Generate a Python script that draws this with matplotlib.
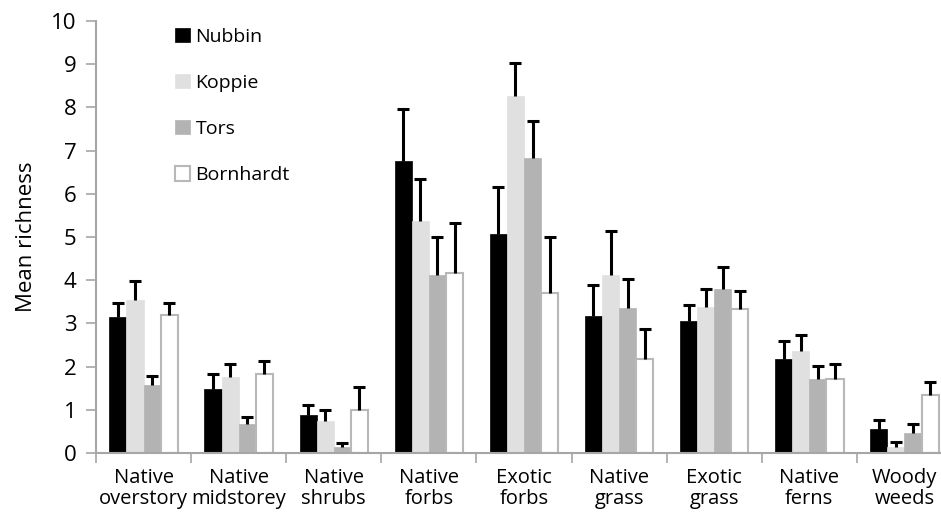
"""Mean richness by plant group across granite outcrop types."""

import matplotlib

matplotlib.use("Agg")
import matplotlib.pyplot as plt
import numpy as np

categories = [
    "Native\noverstory", "Native\nmidstorey", "Native\nshrubs", "Native\nforbs",
    "Exotic\nforbs", "Native\ngrass", "Exotic\ngrass", "Native\nferns", "Woody\nweeds",
]
series_names = ["Nubbin", "Koppie", "Tors", "Bornhardt"]

nubbin = [3.15, 1.49, 0.89, 6.77, 5.06, 3.16, 3.06, 2.18, 0.56]
koppie = [3.54, 1.77, 0.75, 5.38, 8.26, 4.13, 3.38, 2.37, 0.13]
tors = [1.57, 0.66, 0.15, 4.13, 6.82, 3.35, 3.80, 1.71, 0.46]
bornhardt = [3.19, 1.84, 1.00, 4.17, 3.70, 2.17, 3.33, 1.71, 1.34]

nubbin_se = [0.32, 0.34, 0.21, 1.19, 1.10, 0.72, 0.37, 0.41, 0.21]
koppie_se = [0.44, 0.30, 0.25, 0.96, 0.76, 1.00, 0.41, 0.35, 0.12]
tors_se = [0.22, 0.17, 0.07, 0.86, 0.87, 0.67, 0.50, 0.31, 0.22]
bornhardt_se = [0.29, 0.28, 0.53, 1.15, 1.29, 0.69, 0.42, 0.36, 0.30]

values = [nubbin, koppie, tors, bornhardt]
errors = [nubbin_se, koppie_se, tors_se, bornhardt_se]
face_colors = ["#000000", "#e0e0e0", "#b3b3b3", "#ffffff"]
edge_colors = ["#000000", "#e0e0e0", "#b3b3b3", "#b8b8b8"]

plt.rcParams["font.family"] = ["Open Sans", "DejaVu Sans"]
axis_grey = "#a6a6a6"

fig = plt.figure(figsize=(9.41, 5.15), dpi=100)
ax = fig.add_axes([0.102, 0.1204, 0.9097, 0.8388])

x = np.arange(len(categories))
width = 0.18
for i, (vals, errs) in enumerate(zip(values, errors)):
    pos = x + (i - 1.5) * width
    ax.bar(
        pos, vals, width, color=face_colors[i], edgecolor=edge_colors[i],
        linewidth=1.5 if i == 3 else 0.5, label=series_names[i], zorder=2,
    )
    eb = ax.errorbar(
        pos, vals, yerr=[np.zeros(len(vals)), errs], fmt="none",
        ecolor="black", elinewidth=2.2, capsize=4, capthick=2.2, zorder=3,
    )
    # only the upper whisker has a cap
    eb[1][0].set_visible(False)

ax.set_xlim(-0.5, len(categories) - 0.5)
ax.set_ylim(0, 10)
ax.set_yticks(range(0, 11))
ax.set_xticks(np.arange(len(categories) + 1) - 0.5, minor=True)
ax.set_xticks(x)
ax.set_xticklabels(categories, fontsize=14.5, linespacing=1.05)
ax.tick_params(axis="x", which="major", length=0, pad=11)
ax.tick_params(axis="x", which="minor", length=7, width=1.2, color=axis_grey)
ax.tick_params(axis="y", length=7, width=1.2, color=axis_grey, labelsize=16, pad=7)

for side in ["top", "right"]:
    ax.spines[side].set_visible(False)
for side in ["left", "bottom"]:
    ax.spines[side].set_color(axis_grey)
    ax.spines[side].set_linewidth(1.5)

ax.set_ylabel("Mean richness", fontsize=16, labelpad=10)

ax.legend(
    loc="upper left", bbox_to_anchor=(0.072, 1.025), frameon=False, fontsize=14,
    labelspacing=1.45, handlelength=0.75, handleheight=0.75, handletextpad=0.3,
)

fig.savefig("out.png", dpi=100)
